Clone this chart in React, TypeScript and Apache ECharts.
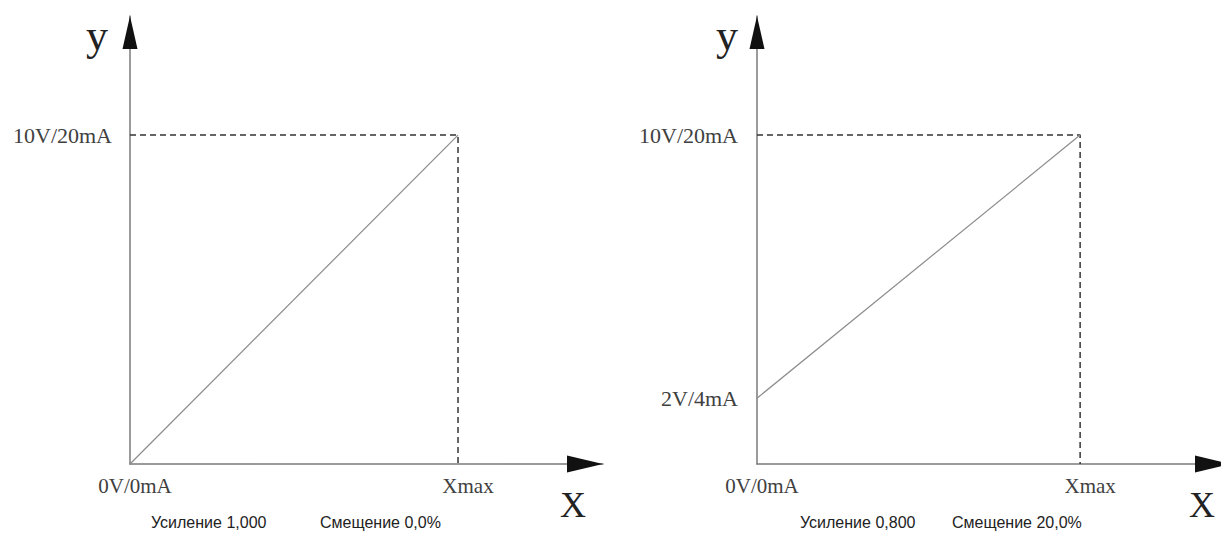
import React, { useEffect, useRef } from "react";
import * as echarts from "echarts";

// ---- data ----
const INPUT = [0, 1]; // 0 .. Xmax (normalised input)
const X_MAX = 1;
const FULL_SCALE = 10; // 10 V / 20 mA
const LEFT_OUTPUT = [0, 10]; // gain 1.000, offset 0.0 %
const RIGHT_OUTPUT = [2, 10]; // gain 0.800, offset 20.0 %
const LEFT_Y_TICKS = [10];
const RIGHT_Y_TICKS = [2, 10];
const Y_TICK_LABELS: Record<number, string> = { 10: "10V/20mA", 2: "2V/4mA" };
const X_TICKS = [0, 1];
const X_TICK_LABELS: Record<number, string> = { 0: "0V/0mA", 1: "Xmax" };
const LEFT_CAPTIONS = ["Усиление 1,000", "Смещение 0,0%"];
const RIGHT_CAPTIONS = ["Усиление 0,800", "Смещение 20,0%"];

// ---- layout ----
const AXIS_Y = 464;
const TOP = 16;
const L_LEFT = 130;
const L_W = 473;
const R_LEFT = 757;
const R_W = 474;
const X_AXIS_MAX_L = 1.442;
const X_AXIS_MAX_R = 1.436;
const Y_AXIS_MAX = 13.62;

const SERIF = "'Liberation Serif', 'Times New Roman', serif";
const SANS = "'Liberation Sans', Arial, sans-serif";
const LABEL_COLOR = "#404040";

function pairs(xs: number[], ys: number[]) {
  return xs.map((x, i) => [x, ys[i]]);
}

function xAxisCfg(gridIndex: number, max: number) {
  return {
    type: "value",
    gridIndex,
    min: 0,
    max,
    splitLine: { show: false },
    axisTick: { show: false },
    axisLine: { show: true, onZero: false, lineStyle: { color: "#7a7a7a", width: 1.5 } },
    axisLabel: {
      customValues: X_TICKS,
      margin: 11,
      fontFamily: SERIF,
      fontSize: 21,
      color: LABEL_COLOR,
      formatter: (v: number) => (v === 0 ? `{z|${X_TICK_LABELS[0]}}` : `{m|${X_TICK_LABELS[1]}}`),
      rich: {
        z: { fontFamily: SERIF, fontSize: 21, color: LABEL_COLOR, padding: [0, 0, 0, 10] },
        m: { fontFamily: SERIF, fontSize: 21, color: LABEL_COLOR, padding: [0, 0, 0, 20] },
      },
    },
  };
}

function yAxisCfg(gridIndex: number, ticks: number[], margin: number) {
  return {
    type: "value",
    gridIndex,
    min: 0,
    max: Y_AXIS_MAX,
    splitLine: { show: false },
    axisTick: { show: false },
    axisLine: { show: true, onZero: false, lineStyle: { color: "#7a7a7a", width: 1.5 } },
    axisLabel: {
      customValues: ticks,
      margin,
      fontFamily: SERIF,
      fontSize: 22,
      color: LABEL_COLOR,
      formatter: (v: number) => Y_TICK_LABELS[v] ?? "",
    },
  };
}

function arrowsFor(left: number, width: number) {
  const tipX = left + width;
  return [
    {
      type: "polygon",
      shape: { points: [[tipX - 36, AXIS_Y - 8.5], [tipX, AXIS_Y], [tipX - 36, AXIS_Y + 8.5]] },
      style: { fill: "#111" },
      z: 20,
    },
    {
      type: "polygon",
      shape: { points: [[left - 7.5, TOP + 33], [left, TOP], [left + 7.5, TOP + 33]] },
      style: { fill: "#111" },
      z: 20,
    },
  ];
}

function text(x: number, y: number, t: string, font: string, size: number, color: string, align = "left") {
  return {
    type: "text",
    x,
    y,
    style: { text: t, fontFamily: font, fontSize: size, fill: color, align, verticalAlign: "middle" },
    z: 20,
  };
}

export default function App() {
  const ref = useRef<HTMLDivElement>(null);
  useEffect(() => {
    if (!ref.current) return;
    const chart = echarts.init(ref.current, null, { renderer: "svg" });
    const dashed = { type: [6, 4], color: "#333", width: 1.5 };
    const solid = { color: "#8c8c8c", width: 1.2 };
    chart.setOption({
      animation: false,
      backgroundColor: "#ffffff",
      grid: [
        { left: L_LEFT, top: TOP, width: L_W, height: AXIS_Y - TOP, containLabel: false },
        { left: R_LEFT, top: TOP, width: R_W, height: AXIS_Y - TOP, containLabel: false },
      ],
      xAxis: [xAxisCfg(0, X_AXIS_MAX_L), xAxisCfg(1, X_AXIS_MAX_R)],
      yAxis: [yAxisCfg(0, LEFT_Y_TICKS, 18), yAxisCfg(1, RIGHT_Y_TICKS, 19)],
      series: [
        {
          type: "line",
          xAxisIndex: 0,
          yAxisIndex: 0,
          data: [[0, FULL_SCALE], [X_MAX, FULL_SCALE], [X_MAX, 0]],
          showSymbol: false,
          lineStyle: dashed,
          silent: true,
        },
        {
          type: "line",
          xAxisIndex: 0,
          yAxisIndex: 0,
          data: pairs(INPUT, LEFT_OUTPUT),
          showSymbol: false,
          lineStyle: solid,
          silent: true,
        },
        {
          type: "line",
          xAxisIndex: 1,
          yAxisIndex: 1,
          data: [[0, FULL_SCALE], [X_MAX, FULL_SCALE], [X_MAX, 0]],
          showSymbol: false,
          lineStyle: dashed,
          silent: true,
        },
        {
          type: "line",
          xAxisIndex: 1,
          yAxisIndex: 1,
          data: pairs(INPUT, RIGHT_OUTPUT),
          showSymbol: false,
          lineStyle: solid,
          silent: true,
        },
      ],
      graphic: [
        ...arrowsFor(L_LEFT, L_W),
        ...arrowsFor(R_LEFT, R_W),
        text(97, 35, "y", SERIF, 44, "#222", "center"),
        text(727, 35, "y", SERIF, 44, "#222", "center"),
        text(573, 505, "X", SERIF, 36, "#222", "center"),
        text(1202, 505, "X", SERIF, 36, "#222", "center"),
        text(151, 522, LEFT_CAPTIONS[0], SANS, 16, "#222"),
        text(320, 522, LEFT_CAPTIONS[1], SANS, 16, "#222"),
        text(800, 522, RIGHT_CAPTIONS[0], SANS, 16, "#222"),
        text(952, 522, RIGHT_CAPTIONS[1], SANS, 16, "#222"),
      ],
    });
    return () => chart.dispose();
  }, []);
  return (
    <div
      ref={ref}
      style={{ position: "absolute", left: 0, top: 0, width: 1221, height: 533, background: "#fff" }}
    />
  );
}
